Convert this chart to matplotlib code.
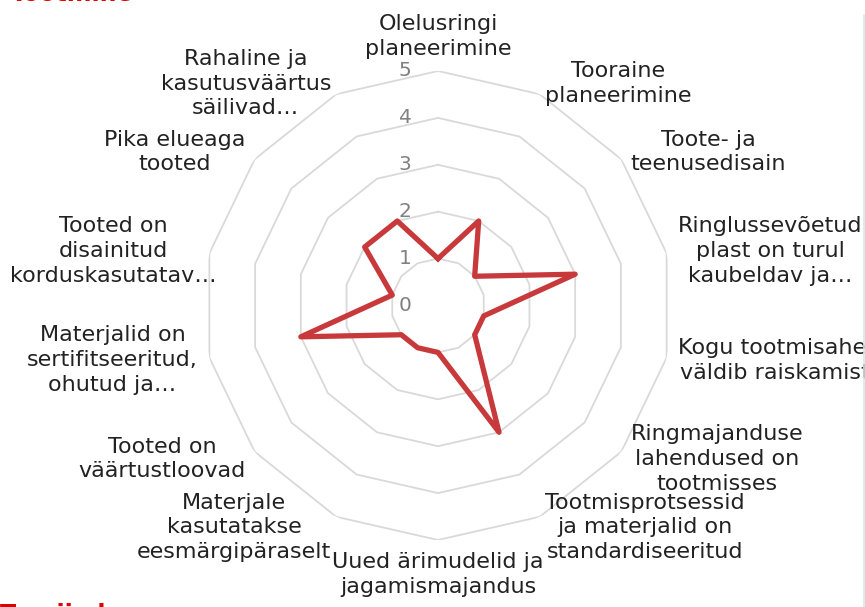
import numpy as np
import matplotlib
matplotlib.use("Agg")
import matplotlib.pyplot as plt
from matplotlib.transforms import offset_copy
from matplotlib.lines import Line2D

# Kategooriad (päripäeva, alates ülevalt)
kategooriad = [
    "Olelusringi\nplaneerimine",
    "Tooraine\nplaneerimine",
    "Toote- ja\nteenusedisain",
    "Ringlussevõetud\nplast on turul\nkaubeldav ja…",
    "Kogu tootmisahel\nväldib raiskamist",
    "Ringmajanduse\nlahendused on\ntootmisses",
    "Tootmisprotsessid\nja materjalid on\nstandardiseeritud",
    "Uued ärimudelid ja\njagamismajandus",
    "Materjale\nkasutatakse\neesmärgipäraselt",
    "Tooted on\nväärtustloovad",
    "Materjalid on\nsertifitseeritud,\nohutud ja…",
    "Tooted on\ndisainitud\nkorduskasutatav…",
    "Pika elueaga\ntooted",
    "Rahaline ja\nkasutusväärtus\nsäilivad…",
]
hinded = [1, 2, 1, 3, 1, 1, 3, 1, 1, 1, 3, 1, 2, 2]
skaala = [0, 1, 2, 3, 4, 5]

plt.rcParams['font.family'] = ['DejaVu Sans']

fig = plt.figure(figsize=(8.65, 6.07), dpi=100)
W, H = 865, 607
cx, cy, rad = 438, 305.5, 234.5
ax = fig.add_axes([(cx - rad) / W, (H - cy - rad) / H, 2 * rad / W, 2 * rad / H],
                  projection='polar')
ax.set_theta_zero_location('N')
ax.set_theta_direction(-1)
ax.set_ylim(0, 5)
ax.grid(False)
ax.set_xticks([])
ax.set_yticks([])
ax.spines['polar'].set_visible(False)
ax.patch.set_alpha(0)

n = len(kategooriad)
nurgad = np.linspace(0, 2 * np.pi, n, endpoint=False)
nurgad_k = np.append(nurgad, nurgad[0])

# hulknurkne ruudustik
for v in skaala[1:]:
    ax.plot(nurgad_k, [v] * (n + 1), color='#d9d9d9', lw=1.3, zorder=1)

# andmejoon
hk = hinded + hinded[:1]
ax.plot(nurgad_k, hk, color='#c8393b', lw=3.8, solid_joinstyle='round', zorder=3)

# skaala sildid
tr = offset_copy(ax.transData, fig=fig, x=-33, y=0, units='dots')
for v in skaala:
    ax.text(0, v, str(v), transform=tr, ha='center', va='center',
            fontsize=14.5, color='#808080', zorder=4)

# kategooriate sildid
sildid = []
for a, txt in zip(nurgad, kategooriad):
    s = np.sin(a)
    c = np.cos(a)
    if abs(s) < 0.1:
        ha = 'center'
        va = 'bottom' if c > 0 else 'top'
    else:
        ha = 'left' if s > 0 else 'right'
        va = 'center'
    t = ax.text(a, 5.25, txt, ha=ha, va=va, multialignment='center',
                fontsize=16, color='#222222', linespacing=1.3, clip_on=False)
    sildid.append(t)

# liiga vasakule jäävad sildid nihutame pildi sisse
fig.canvas.draw()
r = fig.canvas.get_renderer()
for t in sildid:
    bb = t.get_window_extent(r)
    if bb.x0 < 10:
        t.set_transform(offset_copy(ax.transData, fig=fig, x=10 - bb.x0, y=0, units='dots'))

# slaidi servad (pealkirjad jäävad pildist peaaegu välja)
fig.text(0.012, 1 - 1 / H, "Tootmine", color='#e00000', fontsize=17, fontweight='bold',
         ha='left', va='baseline')
fig.text(0.0, 1 - 603 / H, "Tarnijad", color='#e00000', fontsize=17, fontweight='bold',
         ha='left', va='top')
fig.add_artist(Line2D([863.5 / W, 863.5 / W], [0, 1 - 15 / H], color='#d3ebe5', lw=1.2))

fig.savefig("out.png", dpi=100)
